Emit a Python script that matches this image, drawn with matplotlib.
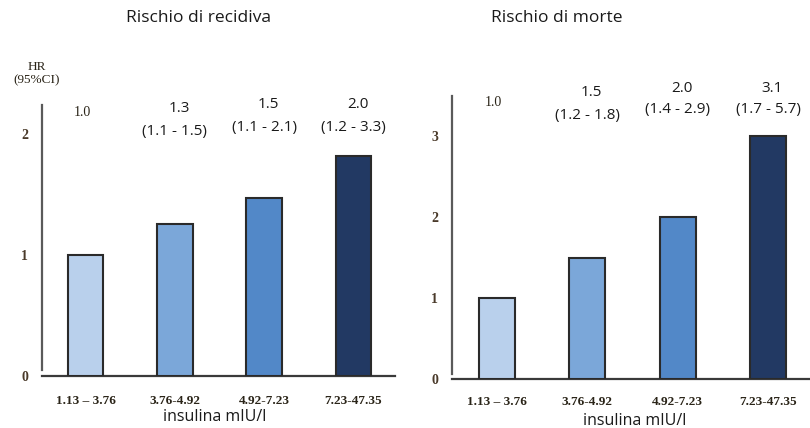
import matplotlib
matplotlib.use("Agg")
import matplotlib.pyplot as plt
from matplotlib.transforms import blended_transform_factory

# ---- data ----
categories = ["1.13 \u2013 3.76", "3.76-4.92", "4.92-7.23", "7.23-47.35"]
recidiva_bar = [1.0, 1.26, 1.47, 1.82]
morte_bar = [1.0, 1.5, 2.0, 3.0]
recidiva_hr = ["1.0", "1.3", "1.5", "2.0"]
recidiva_ci = ["", "(1.1 - 1.5)", "(1.1 - 2.1)", "(1.2 - 3.3)"]
morte_hr = ["1.0", "1.5", "2.0", "3.1"]
morte_ci = ["", "(1.2 - 1.8)", "(1.4 - 2.9)", "(1.7 - 5.7)"]
recidiva_ticks = [0, 1, 2]
morte_ticks = [0, 1, 2, 3]
colors = ["#b9d0ec", "#7ba7d9", "#5288c8", "#223963"]

W, H = 810, 428
fig = plt.figure(figsize=(W / 100, H / 100), dpi=100)

SANS = "Open Sans"
SERIF = "Liberation Serif"
tick_color = "#4a3a2a"


def px_axes(l, r, top, bottom):
    return fig.add_axes([l / W, 1 - bottom / H, (r - l) / W, (bottom - top) / H])


def style(ax, ylim, xlim, bounds, ticks, xpad):
    ax.set_ylim(0, ylim)
    ax.set_xlim(*xlim)
    for s in ["top", "right"]:
        ax.spines[s].set_visible(False)
    ax.spines["left"].set_color("#5a5a5a")
    ax.spines["left"].set_linewidth(1.6)
    ax.spines["left"].set_bounds(*bounds)
    ax.spines["bottom"].set_color("#3a3a3a")
    ax.spines["bottom"].set_linewidth(1.6)
    ax.set_yticks(ticks)
    ax.set_yticklabels([str(t) for t in ticks], fontfamily=SERIF, fontweight="bold",
                       fontsize=10, color=tick_color)
    ax.tick_params(axis="y", length=0, pad=10)
    ax.set_xticks(range(len(categories)))
    ax.set_xticklabels(categories, fontfamily=SERIF, fontweight="bold", fontsize=9.5,
                       color="#2a2418")
    ax.tick_params(axis="x", length=0, pad=xpad)


def annotate(ax, hr, ci, y_hr, y_ci, y_first):
    tr = blended_transform_factory(ax.transData, fig.transFigure)
    for i, (h, c) in enumerate(zip(hr, ci)):
        if c == "":
            ax.text(i - 0.04, 1 - y_first / H, h, transform=tr, ha="center", va="center",
                    fontfamily=SERIF, fontsize=10, color="#2a2418")
        else:
            ax.text(i + 0.05, 1 - y_hr[i] / H, h, transform=tr, ha="center", va="center",
                    fontfamily=SANS, fontsize=11, color="#1a1a1a")
            ax.text(i, 1 - y_ci[i] / H, c, transform=tr, ha="center", va="center",
                    fontfamily=SANS, fontsize=11, color="#1a1a1a")


# ---- left panel ----
ax1 = px_axes(42, 395, 100, 376)
ax1.bar(range(len(categories)), recidiva_bar, width=0.40, color=colors,
        edgecolor="#2a2a2a", linewidth=1.5, zorder=3)
style(ax1, 276 / 121, (-0.487, 3.465), (0.05, 2.24), recidiva_ticks, 14)
annotate(ax1, recidiva_hr, recidiva_ci, [None, 109, 105, 105], [None, 132, 128, 128], 113)

# ---- right panel ----
ax2 = px_axes(452, 810, 95, 379)
ax2.bar(range(len(categories)), morte_bar, width=0.40, color=colors,
        edgecolor="#2a2a2a", linewidth=1.5, zorder=3)
style(ax2, 284 / 81, (-0.498, 3.465), (0.06, 3.5), morte_ticks, 12)
annotate(ax2, morte_hr, morte_ci, [None, 93, 88, 88], [None, 115, 110, 110], 103)

# ---- titles & labels ----
fig.text(198 / W, 1 - 18 / H, "Rischio di recidiva", ha="center", va="center",
         fontfamily=SANS, fontsize=12.5, color="#1a1a1a")
fig.text(557 / W, 1 - 18 / H, "Rischio di morte", ha="center", va="center",
         fontfamily=SANS, fontsize=12.5, color="#1a1a1a")
fig.text(215 / W, 1 - 417 / H, "insulina mIU/l", ha="center", va="center",
         fontfamily=SANS, fontsize=11.5, color="#1a1a1a")
fig.text(635 / W, 1 - 421 / H, "insulina mIU/l", ha="center", va="center",
         fontfamily=SANS, fontsize=11.5, color="#1a1a1a")
fig.text(37 / W, 1 - 67 / H, "HR", ha="center", va="center",
         fontfamily=SERIF, fontsize=9.5, color="#2a2418")
fig.text(37 / W, 1 - 80 / H, "(95%CI)", ha="center", va="center",
         fontfamily=SERIF, fontsize=9.5, color="#2a2418")

fig.savefig("out.png", dpi=100, facecolor="white")
